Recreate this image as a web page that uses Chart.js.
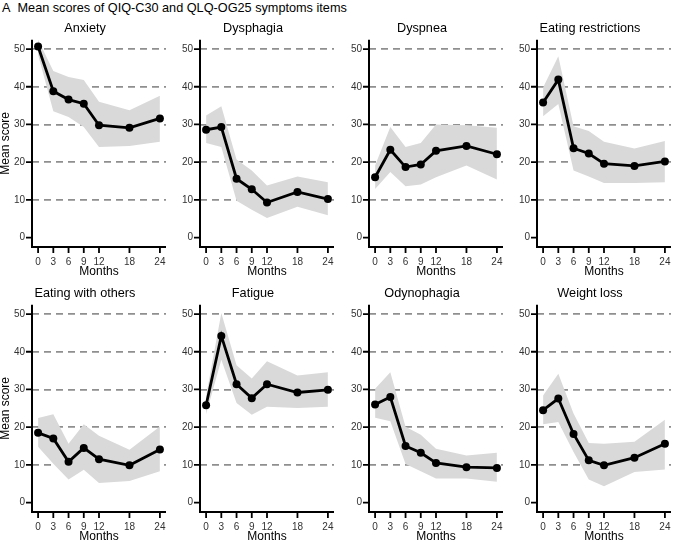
<!DOCTYPE html>
<html>
<head>
<meta charset="utf-8">
<script src="https://cdn.jsdelivr.net/npm/chart.js@4"></script>
<style>
  html, body { margin: 0; padding: 0; background: #fff; }
  body { width: 676px; height: 540px; overflow: hidden; position: relative; font-family: 'Liberation Sans', Arial, sans-serif; }
  #main-title { position: absolute; left: 2px; top: 1px; font-size: 12.7px; color: #000; white-space: nowrap; line-height: 15px; }
  canvas { position: absolute; }
</style>
</head>
<body>
<div id="main-title">A&nbsp;&nbsp;Mean scores of QIQ-C30 and QLQ-OG25 symptoms items</div>
<canvas id="p0"></canvas><canvas id="p1"></canvas><canvas id="p2"></canvas><canvas id="p3"></canvas>
<canvas id="p4"></canvas><canvas id="p5"></canvas><canvas id="p6"></canvas><canvas id="p7"></canvas>
<script>
// ---- Data ---------------------------------------------------------------
const MONTHS = [0, 3, 6, 9, 12, 18, 24];
const Y_TICKS = [0, 10, 20, 30, 40, 50];
const PANEL_TITLES = ['Anxiety', 'Dysphagia', 'Dyspnea', 'Eating restrictions',
                      'Eating with others', 'Fatigue', 'Odynophagia', 'Weight loss'];

const anxietyMean = [50.7, 38.8, 36.6, 35.5, 29.8, 29.1, 31.6];
const anxietyLow  = [48.5, 33.5, 32.0, 29.3, 24.0, 24.3, 25.4];
const anxietyHigh = [52.5, 44.2, 42.6, 41.8, 36.0, 33.8, 37.6];

const dysphagiaMean = [28.6, 29.3, 15.6, 12.8, 9.3, 12.1, 10.2];
const dysphagiaLow  = [25.1, 24.0, 9.8, 7.4, 5.2, 8.2, 5.9];
const dysphagiaHigh = [32.4, 34.8, 20.7, 17.8, 13.8, 16.2, 14.7];

const dyspneaMean = [16.0, 23.3, 18.7, 19.4, 23.0, 24.3, 22.1];
const dyspneaLow  = [12.9, 17.4, 13.6, 14.1, 16.0, 19.1, 15.4];
const dyspneaHigh = [19.1, 29.3, 24.0, 25.1, 30.0, 29.8, 29.1];

const eatRestrMean = [35.8, 41.9, 23.7, 22.3, 19.6, 19.0, 20.2];
const eatRestrLow  = [32.2, 35.4, 17.8, 16.2, 14.5, 14.5, 14.7];
const eatRestrHigh = [39.8, 48.1, 29.5, 28.3, 25.4, 23.6, 25.6];

const eatOthersMean = [18.5, 17.0, 10.8, 14.5, 11.5, 9.9, 14.1];
const eatOthersLow  = [14.8, 10.3, 6.1, 8.7, 5.2, 5.7, 8.3];
const eatOthersHigh = [22.4, 23.4, 15.6, 20.8, 17.7, 14.0, 20.2];

const fatigueMean = [25.8, 44.2, 31.4, 27.7, 31.4, 29.2, 29.9];
const fatigueLow  = [23.4, 37.9, 26.4, 23.3, 25.4, 25.1, 25.4];
const fatigueHigh = [28.2, 50.3, 36.4, 32.9, 37.5, 33.7, 34.6];

const odynoMean = [26.0, 28.0, 15.0, 13.2, 10.5, 9.4, 9.2];
const odynoLow  = [22.5, 21.6, 10.2, 8.3, 6.4, 6.4, 5.5];
const odynoHigh = [30.2, 34.6, 20.1, 18.0, 14.3, 12.5, 13.2];

const weightMean = [24.5, 27.6, 18.2, 11.2, 9.9, 11.9, 15.6];
const weightLow  = [20.8, 21.4, 13.4, 6.1, 4.3, 8.1, 8.8];
const weightHigh = [28.4, 34.2, 23.6, 15.8, 15.6, 16.1, 22.0];

const PANELS = [
    [anxietyMean, anxietyLow, anxietyHigh],
    [dysphagiaMean, dysphagiaLow, dysphagiaHigh],
    [dyspneaMean, dyspneaLow, dyspneaHigh],
    [eatRestrMean, eatRestrLow, eatRestrHigh],
    [eatOthersMean, eatOthersLow, eatOthersHigh],
    [fatigueMean, fatigueLow, fatigueHigh],
    [odynoMean, odynoLow, odynoHigh],
    [weightMean, weightLow, weightHigh],
];

// ---- Layout ---------------------------------------------------------------
Chart.defaults.font.family = "'Liberation Sans', Arial, sans-serif";
Chart.defaults.color = '#222';

const COL_LEFT = [0, 168, 337, 505];
const ROW_TOP = [14, 279];
const CANVAS_W = 170;
const CANVAS_H = 266;

const toPts = arr => arr.map((v, i) => ({ x: MONTHS[i], y: v }));

// L-shaped axis lines with outward tick marks
const axisLines = {
    id: 'axisLines',
    afterDraw(chart) {
        const ctx = chart.ctx;
        const a = chart.chartArea;
        const xs = chart.scales.x;
        const ys = chart.scales.y;
        ctx.save();
        ctx.setLineDash([]);
        ctx.strokeStyle = '#000';
        ctx.lineWidth = 1.8;
        ctx.beginPath();
        Y_TICKS.forEach(v => {
            const y = ys.getPixelForValue(v);
            ctx.moveTo(a.left - 6, y);
            ctx.lineTo(a.left, y);
        });
        MONTHS.forEach(v => {
            const x = xs.getPixelForValue(v);
            ctx.moveTo(x, a.bottom);
            ctx.lineTo(x, a.bottom + 6);
        });
        ctx.stroke();
        ctx.lineWidth = 2;
        ctx.beginPath();
        ctx.moveTo(a.left, a.top);
        ctx.lineTo(a.left, a.bottom);
        ctx.lineTo(a.right, a.bottom);
        ctx.stroke();
        ctx.restore();
    }
};

function makePanel(idx) {
    const [mean, low, high] = PANELS[idx];
    const col = idx % 4;
    const row = Math.floor(idx / 4);
    const canvas = document.getElementById('p' + idx);
    canvas.width = CANVAS_W;
    canvas.height = CANVAS_H;
    canvas.style.left = COL_LEFT[col] + 'px';
    canvas.style.top = ROW_TOP[row] + 'px';

    new Chart(canvas.getContext('2d'), {
        type: 'line',
        data: {
            datasets: [
                {
                    data: toPts(high),
                    borderWidth: 0,
                    pointRadius: 0,
                    backgroundColor: '#d9d9d9',
                    fill: '+1',
                    tension: 0,
                    order: 2,
                },
                {
                    data: toPts(low),
                    borderWidth: 0,
                    pointRadius: 0,
                    fill: false,
                    tension: 0,
                    order: 3,
                },
                {
                    data: toPts(mean),
                    borderColor: '#000',
                    borderWidth: 2.8,
                    pointRadius: 4,
                    pointBackgroundColor: '#000',
                    pointBorderWidth: 0,
                    fill: false,
                    tension: 0,
                    order: 1,
                },
            ]
        },
        plugins: [axisLines],
        options: {
            responsive: false,
            animation: false,
            layout: { padding: 0 },
            plugins: {
                legend: { display: false },
                tooltip: { enabled: false },
                title: {
                    display: true,
                    text: PANEL_TITLES[idx],
                    color: '#000',
                    font: { size: 12.7, weight: 'normal' },
                    padding: { top: 7, bottom: 3.4 },
                },
            },
            scales: {
                x: {
                    type: 'linear',
                    min: -1.2,
                    max: 25.2,
                    afterBuildTicks: s => { s.ticks = MONTHS.map(v => ({ value: v })); },
                    afterFit: s => { s.height = 33; },
                    ticks: { font: { size: 10 }, padding: 3, maxRotation: 0, autoSkip: false, color: '#333' },
                    grid: { drawOnChartArea: false, tickLength: 6, tickColor: 'rgba(0,0,0,0)' },
                    border: { display: false },
                    title: { display: true, text: 'Months', color: '#000', font: { size: 12 }, padding: { top: 0, bottom: 1 } },
                },
                y: {
                    min: -2.5,
                    max: 52.5,
                    afterBuildTicks: s => { s.ticks = Y_TICKS.map(v => ({ value: v })); },
                    afterFit: s => { s.width = 32; },
                    ticks: { font: { size: 10 }, padding: 1, color: '#333' },
                    grid: {
                        color: c => (c.tick && c.tick.value === 0) ? 'rgba(0,0,0,0)' : '#8f8f8f',
                        lineWidth: 1.8,
                        tickLength: 6,
                        tickColor: 'rgba(0,0,0,0)',
                    },
                    border: { display: false, dash: [7, 5] },
                    title: {
                        display: col === 0,
                        text: 'Mean score',
                        color: '#000',
                        font: { size: 12, lineHeight: 1 },
                        padding: 0,
                    },
                },
            },
        },
    });
}

for (let i = 0; i < 8; i++) makePanel(i);
</script>
</body>
</html>
